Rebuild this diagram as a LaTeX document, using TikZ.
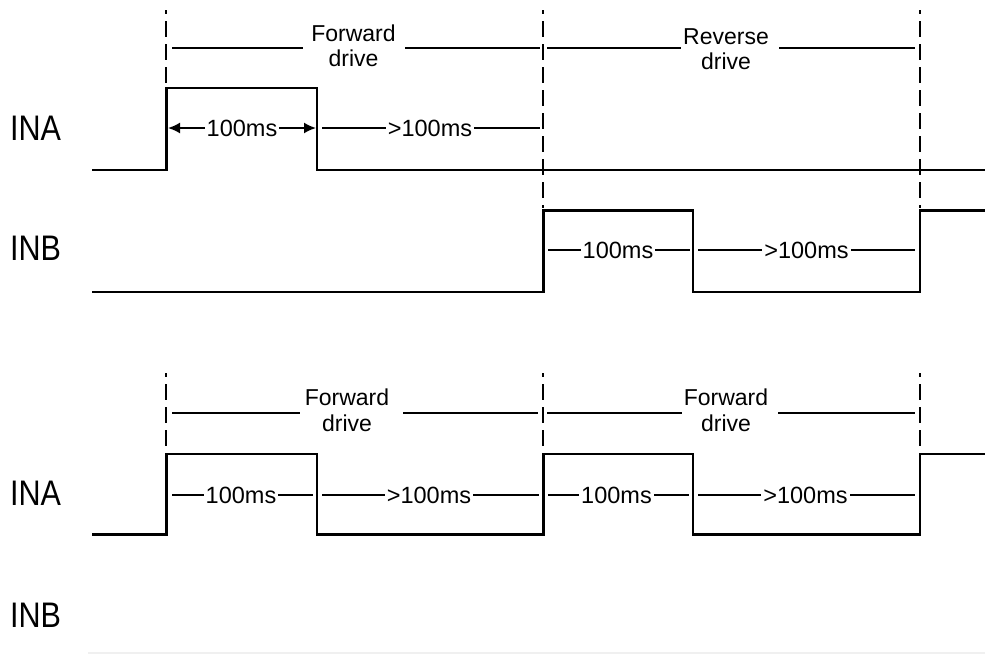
\documentclass[tikz,border=0pt]{standalone}
\usepackage{fontspec}
\setmainfont{Liberation Sans}
\newfontfamily\siglabelfont[FakeStretch=0.86]{Liberation Sans}
\usetikzlibrary{arrows.meta}
\tikzset{
  wave/.style={line width=2.8pt, line join=miter, line cap=butt},
  spanline/.style={line width=1.8pt},
  measline/.style={line width=1.8pt},
  marker/.style={line width=2.2pt, dash pattern=on 16pt off 7pt, dash phase=12pt},
  siglabel/.style={inner sep=0pt, anchor=base west, font=\siglabelfont\fontsize{35.5}{40}\selectfont},
  spantext/.style={inner sep=0pt, anchor=base, font=\fontsize{23}{25}\selectfont},
  meastext/.style={inner xsep=2pt, inner ysep=0pt, anchor=base, fill=white, font=\fontsize{23.5}{25}\selectfont},
  measarrow/.style={measline, {Latex[length=12pt,width=11pt]}-{Latex[length=12pt,width=11pt]}},
}
\begin{document}
\begin{tikzpicture}[x=1pt,y=-1pt]
\useasboundingbox (0,0) rectangle (985,654);

% ---------- dashed markers ----------
\draw[marker] (166,10) -- (166,86);
\draw[marker] (543,10) -- (543,208);
\draw[marker] (920,10) -- (920,208);
\draw[marker] (166,373) -- (166,452);
\draw[marker] (543,373) -- (543,452);
\draw[marker] (920,373) -- (920,452);

% ---------- signal labels ----------
\node[siglabel] (inaA) at (10,140) {INA};
\node[siglabel] (inbA) at (10,260) {INB};
\node[siglabel] (inaB) at (10,505) {INA};
\node[siglabel] (inbB) at (10,627) {INB};

% ---------- top: span labels ----------
\draw[spanline] (172,48) -- (303,48);
\draw[spanline] (405,48) -- (540,48);
\node[spantext] (fwd1a) at (353.5,41) {Forward};
\node[spantext] (fwd1b) at (353.5,66) {drive};
\draw[spanline] (547,48) -- (681,48);
\draw[spanline] (779,48) -- (915,48);
\node[spantext] (rev1a) at (726,44) {Reverse};
\node[spantext] (rev1b) at (726,69) {drive};

% ---------- top: waveforms ----------
\draw[wave] (92,170) -- (166.5,170) -- (166.5,88) -- (317,88) -- (317,170) -- (985,170);
\draw[wave] (92,292) -- (543.5,292) -- (543.5,210.5) -- (693,210.5) -- (693,292) -- (920,292) -- (920,210.5) -- (985,210.5);

% ---------- top: measurements ----------
\draw[measarrow] (168,128) -- (316,128);
\node[meastext] (m1) at (242,136.5) {100ms};
\draw[measline] (322,128) -- (540,128);
\node[meastext] (m2) at (430,136.5) {>100ms};
\draw[measline] (548,250) -- (690,250);
\node[meastext] (m3) at (618,258.5) {100ms};
\draw[measline] (698,250) -- (915,250);
\node[meastext] (m4) at (806.5,258.5) {>100ms};

% ---------- bottom: span labels ----------
\draw[spanline] (172,413) -- (300,413);
\draw[spanline] (403,413) -- (538,413);
\node[spantext] (fwd2a) at (347,405) {Forward};
\node[spantext] (fwd2b) at (347,431) {drive};
\draw[spanline] (547,413) -- (682,413);
\draw[spanline] (778,413) -- (915,413);
\node[spantext] (fwd3a) at (726,405) {Forward};
\node[spantext] (fwd3b) at (726,431) {drive};

% ---------- bottom: waveforms ----------
\draw[wave] (92,534.5) -- (166.5,534.5) -- (166.5,454) -- (317,454) -- (317,534.5) -- (543.5,534.5) -- (543.5,454) -- (693,454) -- (693,534.5) -- (920,534.5) -- (920,454) -- (985,454);
\draw[line width=2pt, black!6] (88,653) -- (985,653);

% ---------- bottom: measurements ----------
\draw[measline] (172,495) -- (313,495);
\node[meastext] (m5) at (241,503.5) {100ms};
\draw[measline] (322,495) -- (539,495);
\node[meastext] (m6) at (429,503.5) {>100ms};
\draw[measline] (548,495) -- (689,495);
\node[meastext] (m7) at (616.5,503.5) {100ms};
\draw[measline] (698,495) -- (915,495);
\node[meastext] (m8) at (805.5,503.5) {>100ms};
\end{tikzpicture}
\end{document}
